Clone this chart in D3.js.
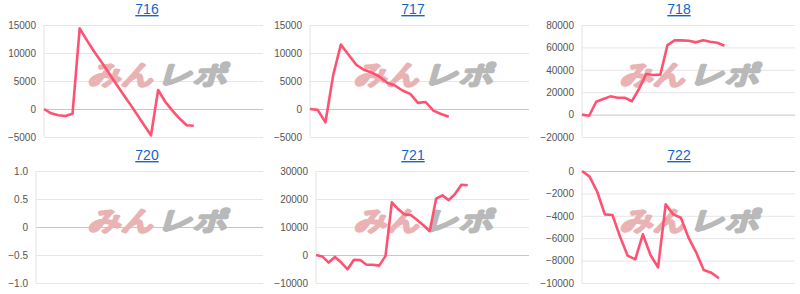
<!DOCTYPE html>
<html>
<head>
<meta charset="utf-8">
<script src="https://cdn.jsdelivr.net/npm/d3@7"></script>
<style>
  body { margin: 0; background: #fff; }
  svg text { font-family: Arial, "Liberation Sans", sans-serif; }
</style>
</head>
<body>
<svg id="chart" width="800" height="294"></svg>
<script>
// machine numbers shown as chart titles
const machines = ["716", "717", "718", "720", "721", "722"];

// y tick labels for each chart
const ticks716 = [-5000, 0, 5000, 10000, 15000];
const ticks717 = [-5000, 0, 5000, 10000, 15000];
const ticks718 = [-20000, 0, 20000, 40000, 60000, 80000];
const ticks720 = [-1, -0.5, 0, 0.5, 1];
const ticks721 = [-10000, 0, 10000, 20000, 30000];
const ticks722 = [-10000, -8000, -6000, -4000, -2000, 0];

// difference series, one value per data point
const values716 = [0, -770, -1130, -1250, -830, 14400, 12300, 10300, 8500, 6600, 4700,
  2800, 1000, -900, -2800, -4700, 3400, 1300, -300, -1700, -2900, -3000];
const values717 = [0, -150, -2400, 6000, 11500, 9700, 7900, 7000, 6500, 5800, 4700,
  4200, 3300, 2700, 1100, 1250, -300, -900, -1400];
const values718 = [0, -1000, 11500, 13900, 16300, 15100, 15100, 11900, 22900, 36300, 35400,
  35700, 62100, 66300, 66300, 65900, 64500, 66300, 65100, 64200, 61500];
const values720 = [];
const values721 = [0, -500, -2700, -700, -2700, -5100, -1700, -1800, -3500, -3500, -3800,
  -300, 18800, 16400, 14500, 14300, 12500, 10600, 8500, 20100, 21300, 19600, 21800, 25100, 24900];
const values722 = [0, -500, -1850, -3870, -3930, -5860, -7560, -7890, -5650, -7500, -8600,
  -2980, -3870, -4170, -5950, -7260, -8840, -9080, -9580];

// length of the x axis, in data points
const xLength = [30.7, 28.4, 29.9, 30, 33.7, 28.0];

const charts = [
  { name: machines[0], ticks: ticks716, values: values716 },
  { name: machines[1], ticks: ticks717, values: values717 },
  { name: machines[2], ticks: ticks718, values: values718 },
  { name: machines[3], ticks: ticks720, values: values720 },
  { name: machines[4], ticks: ticks721, values: values721 },
  { name: machines[5], ticks: ticks722, values: values722 }
];

const svg = d3.select("#chart");
const cellW = 266, cellH = 146;
const plotTop = 25, plotBottom = 137, plotRight = 263;

const intFmt = d3.format("d");
const decFmt = d => d === 0 ? "0" : d3.format(".1f")(d);

charts.forEach((c, k) => {
  const col = k % 3, row = Math.floor(k / 3);
  const g = svg.append("g").attr("transform", `translate(${col * cellW},${row * cellH})`);
  const fmt = c.ticks.some(t => !Number.isInteger(t)) ? decFmt : intFmt;

  // left margin follows the widest tick label
  const tmp = g.append("g").attr("font-size", 10);
  let maxW = 0;
  c.ticks.forEach(t => {
    const n = tmp.append("text").text(fmt(t));
    maxW = Math.max(maxW, n.node().getComputedTextLength());
  });
  tmp.remove();
  const left = Math.round(8 + maxW + 8);

  const y = d3.scaleLinear().domain(d3.extent(c.ticks)).range([plotBottom, plotTop]);
  const x = d3.scaleLinear().domain([0, xLength[k]]).range([left, plotRight]);

  // gridlines + labels
  const axis = g.append("g")
    .attr("transform", `translate(${left},0)`)
    .call(d3.axisLeft(y).tickValues(c.ticks).tickSize(-(plotRight - left)).tickPadding(8).tickFormat(fmt));
  axis.select(".domain").remove();
  axis.selectAll(".tick line").attr("stroke", "#e6e6e6");
  axis.selectAll(".tick").filter(d => d === 0).select("line").attr("stroke", "#c6c6c6");
  axis.selectAll(".tick text")
    .attr("fill", "#555")
    .attr("font-size", 10)
    .attr("font-family", "Arial, 'Liberation Sans', sans-serif");

  g.append("line")
    .attr("x1", left).attr("x2", left)
    .attr("y1", plotTop).attr("y2", plotBottom)
    .attr("stroke", "#e3e3e3");

  // watermark (heavy italic logo text)
  const wm = g.append("g")
    .attr("transform", "translate(161,74) skewX(-16)");
  [["みん", -69, 66, "#eab3b3"], ["レポ", 2, 68, "#b9b9b9"]].forEach(([t, x0, w, col]) => {
    wm.append("text")
      .attr("x", x0).attr("dy", "0.36em")
      .attr("textLength", w).attr("lengthAdjust", "spacingAndGlyphs")
      .attr("fill", col)
      .attr("stroke", col)
      .attr("stroke-width", 2.4)
      .attr("stroke-linejoin", "round")
      .attr("font-family", "'Noto Sans CJK JP', sans-serif")
      .attr("font-weight", "bold")
      .attr("font-size", 26)
      .text(t);
  });

  // title link
  g.append("text")
    .attr("x", 147).attr("y", 14)
    .attr("text-anchor", "middle")
    .attr("font-size", 14)
    .attr("fill", "#1266c8")
    .style("text-decoration", "underline")
    .text(c.name);

  if (c.values.length) {
    const line = d3.line().x((d, i) => x(i)).y(d => y(d));
    g.append("path")
      .datum(c.values)
      .attr("fill", "none")
      .attr("stroke", "#ff5272")
      .attr("stroke-width", 2.6)
      .attr("stroke-linejoin", "round")
      .attr("d", line);
  }
});
</script>
</body>
</html>
